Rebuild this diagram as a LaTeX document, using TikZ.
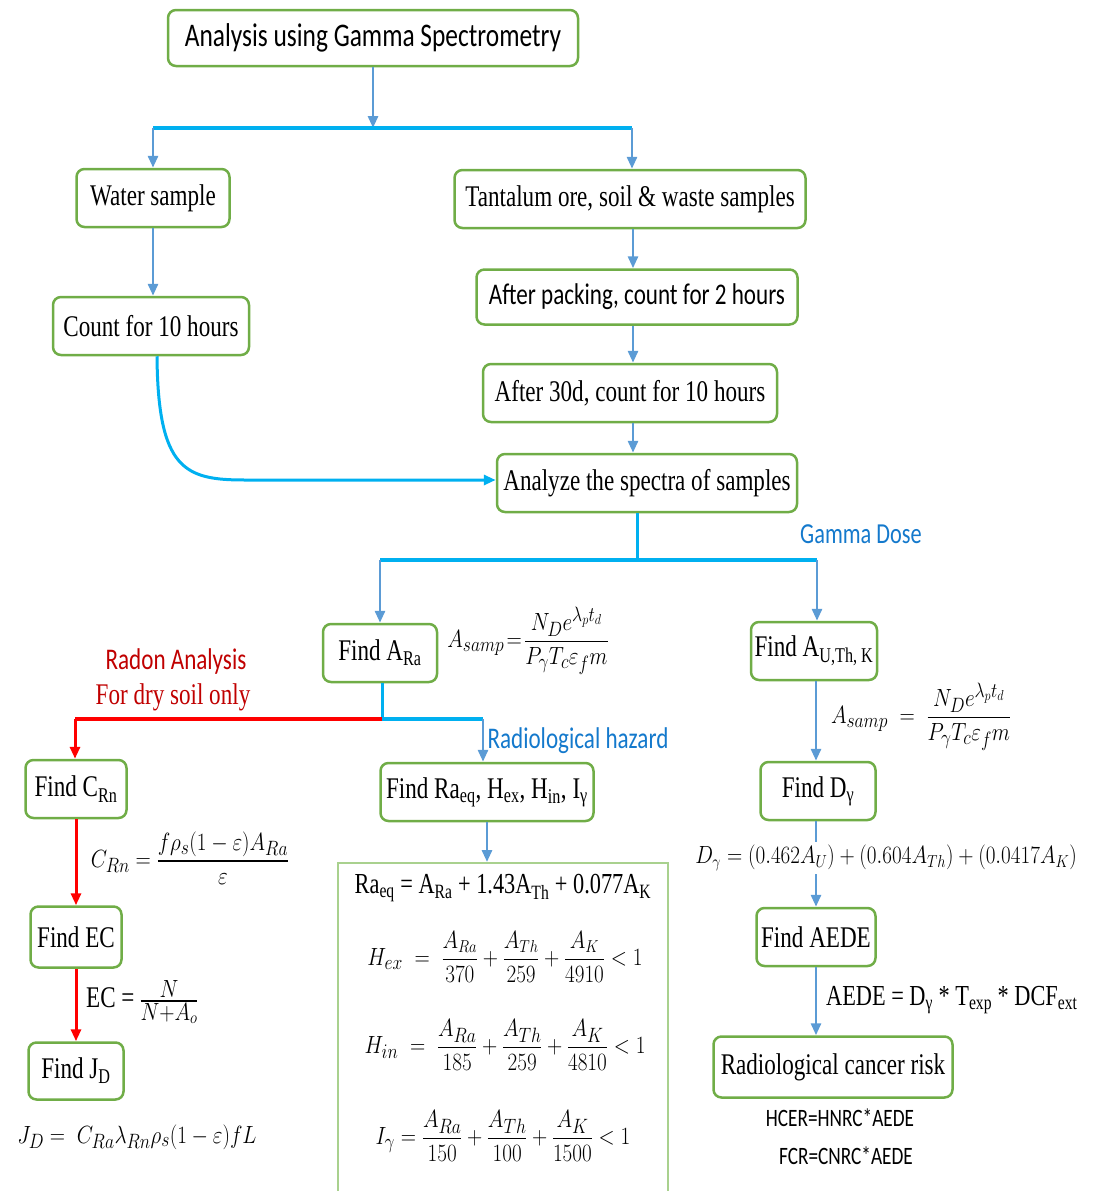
\documentclass[tikz,border=0pt]{standalone}
\usepackage[no-math]{fontspec}
\usepackage{amsmath,amssymb,graphicx}
\usetikzlibrary{arrows.meta}
\setmainfont{Liberation Serif}[FakeStretch=0.77]
\newfontfamily\carl{Carlito}[FakeStretch=0.77]
\newcommand{\fs}[1]{\fontsize{#1}{#1}\selectfont}
\newcommand{\sqz}[1]{\scalebox{0.85}[1]{#1}}
\newcommand{\smfrac}[2]{\text{\fs{23}$\dfrac{#1}{#2}$}}
\definecolor{boxgreen}{HTML}{70AD47}
\definecolor{hazgreen}{HTML}{A9D18E}
\definecolor{arrblue}{HTML}{5B9BD5}
\definecolor{busblue}{HTML}{00B0F0}
\definecolor{linered}{HTML}{FF0000}
\definecolor{txtred}{HTML}{C00000}
\definecolor{txtblue}{HTML}{1479CC}
\tikzset{
box/.style={draw=boxgreen,line width=2.5pt,rounded corners=8pt,fill=white,inner sep=2pt,minimum height=58,font=\fs{30}},
arr/.style={draw=arrblue,line width=2.8pt,-{Triangle[length=12pt,width=10pt]}},
bus/.style={draw=busblue,line width=4pt},
redline/.style={draw=linered,line width=4pt},
redarr/.style={draw=linered,line width=3pt,-{Triangle[length=12pt,width=10pt]}}
}
\begin{document}
\begin{tikzpicture}[x=1pt,y=-1pt]
\useasboundingbox (0,0) rectangle (1092,1191);
\node[box,minimum width=410,minimum height=56,font=\carl\fs{33}] (top) at (373,38) {Analysis using Gamma Spectrometry};
\node[box,minimum width=153] (water) at (153,198) {Water sample};
\node[box,minimum width=351] (ore) at (630,199) {Tantalum ore, soil \& waste samples};
\node[box,minimum width=196] (count) at (151,326) {Count for 10 hours};
\node[box,minimum width=321,minimum height=55,font=\carl\fs{30}] (pack) at (637,297) {After packing, count for 2 hours};
\node[box,minimum width=294] (wait) at (630,393) {After 30d, count for 10 hours};
\node[box,minimum width=300] (spec) at (647,483) {Analyze the spectra of samples};
\node[box,minimum width=114] (fara) at (380,653) {Find A\textsubscript{Ra}};
\node[box,minimum width=126] (fau) at (814,651) {Find A\textsubscript{U,Th, K}};
\node[box,minimum width=101] (fcrn) at (76,789) {Find C\textsubscript{Rn}};
\node[box,minimum width=91,minimum height=61] (fec) at (76,937) {Find EC};
\node[box,minimum width=95,minimum height=57] (fjd) at (76,1071) {Find J\textsubscript{D}};
\node[box,minimum width=213] (fhaz) at (487,792) {Find Ra\textsubscript{eq}, H\textsubscript{ex}, H\textsubscript{in}, I\textsubscript{γ}};
\node[box,minimum width=115] (fdg) at (818,791) {Find D\textsubscript{γ}};
\node[box,minimum width=119] (faede) at (816,937) {Find AEDE};
\node[box,minimum width=239,minimum height=61] (risk) at (833,1067) {Radiological cancer risk};
\node[draw=hazgreen,line width=1.5pt,minimum width=330,minimum height=345,anchor=north] (hazbox) at (503,862) {};

\coordinate (busL) at (153,128);
\coordinate (busR) at (632,128);
\coordinate (gamL) at (380,560);
\coordinate (gamR) at (817,560);
\coordinate (radL) at (75,719);
\coordinate (radS) at (382,719);
\coordinate (hazR) at (483,719);

\draw[arr] (top) -- (top |- busL);
\draw[bus] (busL) -- (busR);
\draw[arr] (busL) -- (water);
\draw[arr] (busR) -- (busR |- ore.north);
\draw[arr] (water) -- (water |- count.north);
\draw[arr] ([xshift=3pt]ore.south) -- ([xshift=3pt]ore.south |- pack.north);
\draw[arr] ([xshift=-4pt]pack.south) -- ([xshift=-4pt]pack.south |- wait.north);
\draw[arr] ([xshift=3pt]wait.south) -- ([xshift=3pt]wait.south |- spec.north);
\draw[bus,line width=3pt,-{Triangle[length=12pt,width=10pt]}] ([xshift=6pt]count.south) .. controls (158,470) and (185,480) .. (245,480) -- (spec.west |- 245,480);
\draw[bus,line width=3pt] ([xshift=-10pt]spec.south) -- ([xshift=-10pt]spec.south |- gamL);
\draw[bus] (gamL) -- (gamR);
\draw[arr] (gamL) -- (fara);
\draw[arr] (gamR) -- (gamR |- fau.north);
\draw[bus,line width=3pt] (radS |- fara.south) -- (radS);
\draw[redline] (radS) -- (radL);
\draw[redarr] (radL) -- (radL |- fcrn.north);
\draw[bus] (radS) -- (hazR);
\draw[arr] (hazR) -- (hazR |- fhaz.north);
\draw[redarr] (fcrn) -- (fec);
\draw[redarr] (fec) -- (fjd);
\draw[arr] (fhaz) -- (fhaz |- hazbox.north);
\draw[arr] ([xshift=2pt]fau.south) -- ([xshift=2pt]fau.south |- fdg.north);
\draw[arr] ([xshift=-2pt]fdg.south) -- ([xshift=-2pt]fdg.south |- faede.north);
\draw[arr] (faede) -- (faede |- risk.north);

\node[font=\carl\fs{29},text=txtblue] (gdose) at (861,534) {Gamma Dose};
\node[font=\carl\fs{30},text=txtred] (radon) at (176,661) {Radon Analysis};
\node[font=\fs{30},text=txtred] (dry) at (173,697) {For dry soil only};
\node[font=\carl\fs{30},text=txtblue] (hazard) at (578,741) {Radiological hazard};
\node[font=\fs{29}] (asampL) at (528,641) {\sqz{$\displaystyle A_{samp}\!=\!\frac{N_De^{\lambda_pt_d}}{P_\gamma T_c\varepsilon_f m}$}};
\node[font=\fs{29}] (asampR) at (921,717) {\sqz{$\displaystyle A_{samp}\;=\;\frac{N_De^{\lambda_pt_d}}{P_\gamma T_c\varepsilon_f m}$}};
\node[font=\fs{29}] (crnf) at (190,858) {\sqz{$\displaystyle C_{Rn}=\frac{f\rho_s(1-\varepsilon)A_{Ra}}{\varepsilon}$}};
\node[font=\fs{36},anchor=west,inner sep=0pt] (ecf) at (86,1002) {{\fs{30}EC =\,}\sqz{$\frac{N}{N+A_o}$}};
\node[font=\fs{29}] (jdf) at (137,1137) {\sqz{$J_D=\;C_{Ra}\lambda_{Rn}\rho_s(1-\varepsilon)fL$}};
\node[font=\fs{29}] (raeq) at (503,888) {Ra\textsubscript{eq} = A\textsubscript{Ra} + 1.43A\textsubscript{Th} + 0.077A\textsubscript{K}};
\node[font=\fs{31}] (hex) at (505,957) {\sqz{$H_{ex}\;=\;\smfrac{A_{Ra}}{370}+\smfrac{A_{Th}}{259}+\smfrac{A_K}{4910}<1$}};
\node[font=\fs{31}] (hin) at (505,1045) {\sqz{$H_{in}\;=\;\dfrac{A_{Ra}}{185}+\dfrac{A_{Th}}{259}+\dfrac{A_K}{4810}<1$}};
\node[font=\fs{31}] (igam) at (503,1136) {\sqz{$I_\gamma=\dfrac{A_{Ra}}{150}+\dfrac{A_{Th}}{100}+\dfrac{A_K}{1500}<1$}};
\node[font=\fs{26},fill=white,inner sep=3pt] (dgf) at (886,858) {\sqz{$D_\gamma=(0.462A_U)+(0.604A_{Th})+(0.0417A_K)$}};
\node[font=\fs{29},anchor=west,inner sep=0pt] (aedef) at (826,1000) {AEDE = D\textsubscript{γ} * T\textsubscript{exp} * DCF\textsubscript{ext}};
\node[font=\carl\fs{25}] (hcer) at (840,1118) {HCER=HNRC*AEDE};
\node[font=\carl\fs{25}] (fcr) at (846,1156) {FCR=CNRC*AEDE};
\end{tikzpicture}
\end{document}
